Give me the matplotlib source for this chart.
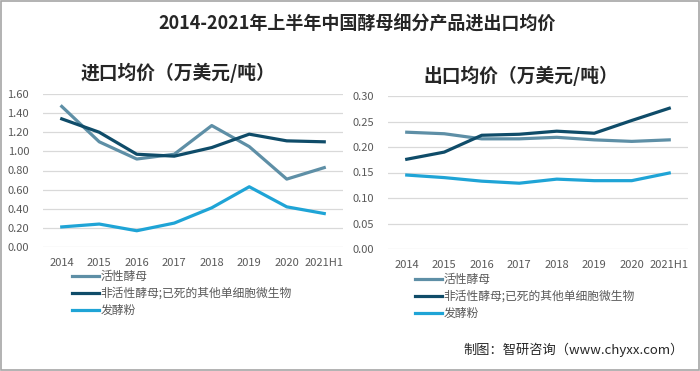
import matplotlib
matplotlib.use("Agg")
import matplotlib.pyplot as plt
from matplotlib.patches import Rectangle

plt.rcParams['font.family'] = ['Noto Sans CJK SC', 'DejaVu Sans']

# data
years = ['2014', '2015', '2016', '2017', '2018', '2019', '2020', '2021H1']
series_names = ['活性酵母', '非活性酵母;已死的其他单细胞微生物', '发酵粉']

import_active = [1.47, 1.10, 0.92, 0.97, 1.27, 1.05, 0.71, 0.83]
import_inactive = [1.34, 1.20, 0.97, 0.95, 1.04, 1.18, 1.11, 1.10]
import_powder = [0.21, 0.24, 0.17, 0.25, 0.41, 0.63, 0.42, 0.35]

export_active = [0.229, 0.226, 0.216, 0.216, 0.219, 0.214, 0.211, 0.214]
export_inactive = [0.176, 0.190, 0.223, 0.225, 0.231, 0.227, 0.252, 0.276]
export_powder = [0.145, 0.140, 0.133, 0.129, 0.137, 0.134, 0.134, 0.149]

colors = ['#5E8FA6', '#0F4C69', '#1FA4D6']
text_gray = '#595959'
grid_gray = '#D9D9D9'

W, H = 700, 371
fig = plt.figure(figsize=(7, 3.71), dpi=100)

# thin gray frame around the whole picture
fig.patches.append(Rectangle((0.001, 0.002), 0.997, 0.995, transform=fig.transFigure,
                             fill=False, edgecolor='#A6A6A6', linewidth=1.2))


def px_axes(left, top, right, bottom):
    return fig.add_axes([left / W, 1 - bottom / H, (right - left) / W, (bottom - top) / H])


def style_axes(ax, ymax, step, fmt):
    ax.set_xlim(-0.5, len(years) - 0.5)
    ax.set_ylim(0, ymax)
    ticks = [round(i * step, 3) for i in range(int(round(ymax / step)) + 1)]
    ax.set_yticks(ticks)
    ax.set_yticklabels([fmt.format(t) for t in ticks])
    ax.set_xticks(range(len(years)))
    ax.set_xticklabels(years)
    ax.grid(axis='y', color=grid_gray, linewidth=0.9)
    ax.set_axisbelow(True)
    for s in ax.spines.values():
        s.set_visible(False)
    ax.tick_params(length=0, labelsize=8, labelcolor=text_gray)
    ax.tick_params(axis='x', pad=8)
    ax.tick_params(axis='y', pad=10)


# left: import prices
ax1 = px_axes(43, 94, 343, 247)
for vals, c in zip([import_active, import_inactive, import_powder], colors):
    ax1.plot(range(len(years)), vals, color=c, linewidth=2.3)
style_axes(ax1, 1.6, 0.2, '{:.2f}')

# right: export prices
ax2 = px_axes(388, 96, 688, 249)
for vals, c in zip([export_active, export_inactive, export_powder], colors):
    ax2.plot(range(len(years)), vals, color=c, linewidth=2.3)
style_axes(ax2, 0.30, 0.05, '{:.2f}')

# legends
for ax, lx, ly in [(ax1, 72, 270), (ax2, 415, 273)]:
    handles = ax.get_lines()
    ax.legend(handles, series_names, loc='upper left',
              bbox_to_anchor=(lx / W, 1 - ly / H), bbox_transform=fig.transFigure,
              frameon=False, fontsize=8.5, labelcolor=text_gray,
              handlelength=2.3, handletextpad=0.1, labelspacing=0.35,
              borderpad=0, borderaxespad=0)

fig.text(357 / W, 1 - 24 / H, '2014-2021年上半年中国酵母细分产品进出口均价',
         ha='center', va='center', fontsize=13, fontweight='bold', color='#262626')
fig.text(178 / W, 1 - 73 / H, '进口均价（万美元/吨）',
         ha='center', va='center', fontsize=13.5, fontweight='bold', color='#262626')
fig.text(521 / W, 1 - 76 / H, '出口均价（万美元/吨）',
         ha='center', va='center', fontsize=13.5, fontweight='bold', color='#262626')
fig.text(574 / W, 1 - 350 / H, '制图：智研咨询（www.chyxx.com）',
         ha='center', va='center', fontsize=9.5, color='#262626')

fig.savefig('out.png', dpi=100)
